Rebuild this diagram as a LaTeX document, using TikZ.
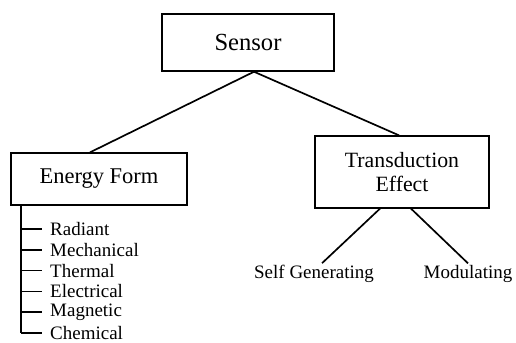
\documentclass[tikz,border=0pt]{standalone}
\usepackage{fontspec}
\setmainfont{Liberation Serif}
\usepackage{tikz}

\begin{document}
\begin{tikzpicture}[line width=1.2pt]

			\tikzstyle{block} = [draw,line width=0.9pt,fill=white,inner sep=0pt,align=center]
			\tikzstyle{leaf} = [inner sep=1pt,font=\fontsize{13.5}{15}\selectfont]

			\useasboundingbox (0,0) rectangle (12.9,8.575);

			\node[block,minimum width=4.3cm,minimum height=1.425cm,font=\fontsize{17.5}{20}\selectfont] (sensor) at (6.2,7.51) {Sensor};
			\node[block,minimum width=4.4cm,minimum height=1.3cm,font=\fontsize{16}{18}\selectfont] (energy) at (2.475,4.1) {Energy Form};
			\node[block,minimum width=4.35cm,minimum height=1.8cm,font=\fontsize{15.5}{17.5}\selectfont] (trans) at (10.05,4.275) {Transduction\\Effect};

			\draw ([xshift=0.15cm]sensor.south) -- ([xshift=-0.225cm]energy.north);
			\draw ([xshift=0.15cm]sensor.south) -- ([xshift=-0.075cm]trans.north);

			% transduction effects
			\node[leaf] (selfgen) at (7.85,1.72) {Self Generating};
			\node[leaf] (modul) at (11.7,1.72) {Modulating};
			\draw ([xshift=-0.55cm]trans.south) -- ([xshift=0.2cm]selfgen.north);
			\draw ([xshift=0.225cm]trans.south) -- (modul.north);

			% energy forms
			\coordinate (trunk) at (0.525,3.45);
			\foreach \name [count=\i] in {Radiant,Mechanical,Thermal,Electrical,Magnetic,Chemical} {
				\coordinate (tick\i) at (0.525,{2.85-0.52*(\i-1)});
				\draw (tick\i) -- ++(0.525,0) node[leaf,anchor=west,xshift=0.15cm] (form\i) {\name};
			}
			\draw (trunk) -- (tick6);
		\end{tikzpicture}
\end{document}
